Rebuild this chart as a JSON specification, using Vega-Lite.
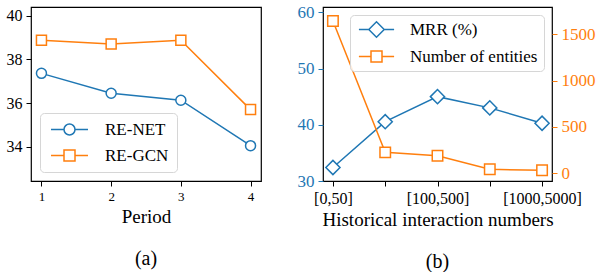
{
  "$schema": "https://vega.github.io/schema/vega-lite/v6.json",
  "padding": {"left": 0, "top": 2, "right": 0, "bottom": 0},
  "background": "white",
  "spacing": 30,
  "resolve": {"scale": {"color": "independent"}, "legend": {"color": "independent"}},
  "config": {
    "font": "Liberation Serif",
    "view": {"stroke": "black", "strokeWidth": 1.2},
    "axis": {"grid": false, "domain": false, "tickColor": "black", "tickSize": 5, "tickWidth": 1, "labelColor": "black", "titleColor": "black", "labelFont": "Liberation Serif", "titleFont": "Liberation Serif", "titleFontWeight": "normal", "labelFontSize": 15, "titleFontSize": 19, "labelPadding": 4, "titlePadding": 4},
    "title": {"font": "Liberation Serif", "fontSize": 20, "fontWeight": "normal", "orient": "bottom", "offset": 23, "color": "black"},
    "legend": {"labelFont": "Liberation Serif", "labelFontSize": 17, "labelColor": "black"}
  },
  "hconcat": [
    {
      "width": 230,
      "height": 174,
      "title": {"text": "(a)", "orient": "bottom"},
      "data": {"values": [
        {"period": 1, "model": "RE-NET", "value": 37.36},
        {"period": 2, "model": "RE-NET", "value": 36.45},
        {"period": 3, "model": "RE-NET", "value": 36.13},
        {"period": 4, "model": "RE-NET", "value": 34.05},
        {"period": 1, "model": "RE-GCN", "value": 38.88},
        {"period": 2, "model": "RE-GCN", "value": 38.7},
        {"period": 3, "model": "RE-GCN", "value": 38.88},
        {"period": 4, "model": "RE-GCN", "value": 35.7}
      ]},
      "encoding": {
        "x": {"field": "period", "type": "quantitative", "scale": {"domain": [0.85, 4.15], "nice": false, "zero": false}, "axis": {"values": [1, 2, 3, 4], "title": "Period", "labelFont": "Liberation Serif", "labelFontSize": 13}},
        "y": {"field": "value", "type": "quantitative", "scale": {"domain": [32.43, 40.4], "nice": false, "zero": false}, "axis": {"values": [34, 36, 38, 40], "title": null, "labelFont": "Liberation Serif", "labelFontSize": 16, "minExtent": 30, "maxExtent": 30}},
        "color": {"field": "model", "type": "nominal", "scale": {"domain": ["RE-NET", "RE-GCN"], "range": ["#1f77b4", "#ff7f0e"]},
          "legend": {"title": null, "orient": "bottom-left", "offset": 9, "labelFont": "Liberation Serif", "labelFontSize": 17, "symbolSize": 121, "symbolStrokeWidth": 1.5, "rowPadding": 8, "padding": 8, "strokeColor": "#d6d6d6", "fillColor": "rgba(255,255,255,0.85)", "cornerRadius": 4, "symbolOffset": 13, "labelOffset": 27,
            "encode": {"symbols": {"update": {"shape": {"signal": "datum.value === 'RE-NET' ? 'M-3.36,0H-1M1,0H3.36M-1,0C-1,-0.552 -0.552,-1 0,-1C0.552,-1 1,-0.552 1,0C1,0.552 0.552,1 0,1C-0.552,1 -1,0.552 -1,0Z' : 'M-3.36,0H-1M1,0H3.36M-1,-1H1V1H-1Z'"}, "fill": {"value": "white"}, "fillOpacity": {"value": 1}}}}}}
      },
      "layer": [
        {"mark": {"type": "line", "strokeWidth": 1.5}},
        {"transform": [{"filter": "datum.model === 'RE-NET'"}], "mark": {"type": "point", "shape": "circle", "filled": false, "fill": "white", "fillOpacity": 1, "strokeWidth": 1.5, "size": 100, "opacity": 1}},
        {"transform": [{"filter": "datum.model === 'RE-GCN'"}], "mark": {"type": "point", "shape": "square", "filled": false, "fill": "white", "fillOpacity": 1, "strokeWidth": 1.5, "size": 100, "opacity": 1}}
      ]
    },
    {
      "width": 229,
      "height": 174,
      "title": {"text": "(b)", "orient": "bottom"},
      "data": {"values": [
        {"range": "[0,50]", "series": "MRR (%)", "value": 32.4},
        {"range": "[50,100]", "series": "MRR (%)", "value": 40.55},
        {"range": "[100,500]", "series": "MRR (%)", "value": 45.0},
        {"range": "[500,1000]", "series": "MRR (%)", "value": 43.0},
        {"range": "[1000,5000]", "series": "MRR (%)", "value": 40.27},
        {"range": "[0,50]", "series": "Number of entities", "value": 1643},
        {"range": "[50,100]", "series": "Number of entities", "value": 226},
        {"range": "[100,500]", "series": "Number of entities", "value": 190},
        {"range": "[500,1000]", "series": "Number of entities", "value": 43},
        {"range": "[1000,5000]", "series": "Number of entities", "value": 32}
      ]},
      "encoding": {
        "x": {"field": "range", "type": "ordinal", "sort": ["[0,50]", "[50,100]", "[100,500]", "[500,1000]", "[1000,5000]"], "scale": {"type": "point", "padding": 0.19},
          "axis": {"labelAngle": 0, "labelFont": "Liberation Serif", "labelFontSize": 16, "title": "Historical interaction numbers", "labelExpr": "indexof(['[0,50]','[100,500]','[1000,5000]'], datum.value) >= 0 ? datum.value : ''"}},
        "color": {"field": "series", "type": "nominal", "scale": {"domain": ["MRR (%)", "Number of entities"], "range": ["#1f77b4", "#ff7f0e"]},
          "legend": {"title": null, "orient": "top-right", "offset": 8, "labelFont": "Liberation Serif", "labelFontSize": 17, "symbolSize": 121, "symbolStrokeWidth": 1.5, "rowPadding": 6, "padding": 6, "strokeColor": "#d6d6d6", "fillColor": "rgba(255,255,255,0.85)", "cornerRadius": 4, "symbolOffset": 12, "labelOffset": 25,
            "encode": {"symbols": {"update": {"shape": {"signal": "datum.value === 'MRR (%)' ? 'M-3.2,0H-1.4M1.4,0H3.2M-1.4,0L0,-1.4L1.4,0L0,1.4Z' : 'M-3.2,0H-1M1,0H3.2M-1,-1H1V1H-1Z'"}, "fill": {"value": "white"}, "fillOpacity": {"value": 1}}}}}}
      },
      "layer": [
        {
          "transform": [{"filter": "datum.series === 'MRR (%)'"}],
          "encoding": {"y": {"field": "value", "type": "quantitative", "scale": {"domain": [30, 60.94], "nice": false, "zero": false}, "axis": {"values": [30, 40, 50, 60], "format": "d", "title": null, "labelFont": "Liberation Serif", "labelFontSize": 17, "labelColor": "#1f77b4", "tickColor": "#1f77b4", "minExtent": 30, "maxExtent": 30}}},
          "layer": [
            {"mark": {"type": "line", "strokeWidth": 1.5}},
            {"mark": {"type": "point", "shape": "diamond", "filled": false, "fill": "white", "fillOpacity": 1, "strokeWidth": 1.5, "size": 200, "opacity": 1}}
          ]
        },
        {
          "transform": [{"filter": "datum.series === 'Number of entities'"}],
          "encoding": {"y": {"field": "value", "type": "quantitative", "scale": {"domain": [-83, 1795], "nice": false, "zero": false}, "axis": {"orient": "right", "values": [0, 500, 1000, 1500], "format": "d", "title": null, "labelFont": "Liberation Serif", "labelFontSize": 17, "labelColor": "#ff7f0e", "tickColor": "#ff7f0e"}}},
          "layer": [
            {"mark": {"type": "line", "strokeWidth": 1.5}},
            {"mark": {"type": "point", "shape": "square", "filled": false, "fill": "white", "fillOpacity": 1, "strokeWidth": 1.5, "size": 110, "opacity": 1}}
          ]
        }
      ],
      "resolve": {"scale": {"y": "independent"}}
    }
  ]
}
